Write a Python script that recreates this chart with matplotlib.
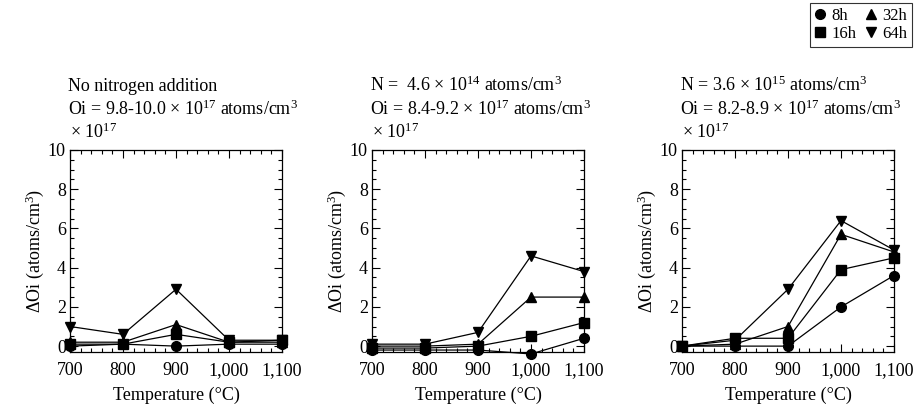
"""
Oxygen precipitation (delta Oi) vs. anneal temperature, three nitrogen levels.
"""

import matplotlib
matplotlib.use("Agg")
import matplotlib.pyplot as plt
from matplotlib.lines import Line2D
from matplotlib.ticker import MultipleLocator, FuncFormatter

plt.rcParams["font.family"] = ["Liberation Serif", "DejaVu Serif"]
plt.rcParams["mathtext.fontset"] = "custom"
plt.rcParams["mathtext.rm"] = "Liberation Serif"
plt.rcParams["mathtext.it"] = "Liberation Serif:italic"

# ---------------------------------------------------------------------------
# Data (units of 1e17 atoms/cm3)
# ---------------------------------------------------------------------------
temperatures = [700, 800, 900, 1000, 1100]
anneal_times = ["8h", "16h", "32h", "64h"]

# Panel 1: no nitrogen addition
no_n_8h  = [0.0, 0.1, 0.0, 0.1, 0.1]
no_n_16h = [0.1, 0.1, 0.6, 0.2, 0.3]
no_n_32h = [0.2, 0.2, 1.1, 0.2, 0.2]
no_n_64h = [1.0, 0.6, 2.9, 0.3, 0.3]

# Panel 2: N = 4.6e14
n14_8h  = [-0.2, -0.2, -0.2, -0.4, 0.4]
n14_16h = [-0.1, -0.1, 0.0, 0.5, 1.2]
n14_32h = [0.0, 0.0, 0.1, 2.5, 2.5]
n14_64h = [0.1, 0.1, 0.7, 4.6, 3.8]

# Panel 3: N = 3.6e15
n15_8h  = [0.0, 0.0, 0.0, 2.0, 3.6]
n15_16h = [0.0, 0.4, 0.4, 3.9, 4.5]
n15_32h = [0.0, 0.1, 1.0, 5.7, 4.8]
n15_64h = [0.0, 0.3, 2.9, 6.4, 4.9]

titles = [
    ("No nitrogen addition",
     r"Oi = 9.8-10.0 $\times$ 10$^{17}$ atoms/cm$^3$"),
    (r"N =  4.6 $\times$ 10$^{14}$ atoms/cm$^3$",
     r"Oi = 8.4-9.2 $\times$ 10$^{17}$ atoms/cm$^3$"),
    (r"N = 3.6 $\times$ 10$^{15}$ atoms/cm$^3$",
     r"Oi = 8.2-8.9 $\times$ 10$^{17}$ atoms/cm$^3$"),
]
panels = [
    [no_n_8h, no_n_16h, no_n_32h, no_n_64h],
    [n14_8h, n14_16h, n14_32h, n14_64h],
    [n15_8h, n15_16h, n15_32h, n15_64h],
]

# ---------------------------------------------------------------------------
# Style
# ---------------------------------------------------------------------------
MARKERS = {"8h": "o", "16h": "s", "32h": "^", "64h": "v"}
MSIZE = 7
FS = 13
AX_LEFTS = [70, 372, 682]     # px
AX_WIDTH = 212
AX_BOTTOM = 352
AX_TOP = 150
W, H = 916, 413


def _style_axis(ax):
    ax.set_xlim(700, 1100)
    ax.set_ylim(-0.3, 10)
    ax.xaxis.set_major_locator(MultipleLocator(100))
    ax.xaxis.set_minor_locator(MultipleLocator(20))
    ax.yaxis.set_major_locator(MultipleLocator(2))
    ax.yaxis.set_minor_locator(MultipleLocator(0.5))
    ax.xaxis.set_major_formatter(FuncFormatter(lambda v, p: f"{int(v):,}"))
    ax.tick_params(which="both", direction="in", top=True, right=True,
                   labelsize=FS, width=0.8)
    ax.tick_params(which="major", length=6)
    ax.tick_params(axis="x", which="major", pad=7)
    ax.tick_params(axis="y", which="major", pad=3)
    ax.tick_params(which="minor", length=3)
    for sp in ax.spines.values():
        sp.set_linewidth(0.9)
    ax.set_xlabel("Temperature (\u00b0C)", fontsize=FS, labelpad=6)
    ax.set_ylabel(r"$\Delta$Oi (atoms/cm$^3$)", fontsize=FS, labelpad=1)


fig = plt.figure(figsize=(W / 100, H / 100), dpi=100)

for left, series, (line1, line2) in zip(AX_LEFTS, panels, titles):
    ax = fig.add_axes([left / W, (H - AX_BOTTOM) / H,
                       AX_WIDTH / W, (AX_BOTTOM - AX_TOP) / H])
    for name, vals in zip(anneal_times, series):
        ax.plot(temperatures, vals, color="black", linewidth=0.9,
                marker=MARKERS[name], markersize=MSIZE, clip_on=False)
    _style_axis(ax)
    ax.text(-0.01, 1.29, line1, transform=ax.transAxes, fontsize=FS,
            ha="left", va="baseline")
    ax.text(-0.01, 1.175, line2, transform=ax.transAxes, fontsize=FS,
            ha="left", va="baseline")
    ax.text(0.0, 1.06, r"$\times$ 10$^{17}$", transform=ax.transAxes,
            fontsize=FS, ha="left", va="baseline")

# Legend (top right)
handles = [Line2D([], [], color="black", linestyle="none",
                  marker=MARKERS[t], markersize=MSIZE, label=t)
           for t in anneal_times]
leg = fig.legend(handles=handles, ncol=2, loc="upper right",
                 bbox_to_anchor=(912 / W, 1 - 3 / H), fontsize=12,
                 frameon=True, fancybox=False, edgecolor="black",
                 handlelength=0.6, handletextpad=0.35, columnspacing=0.6,
                 borderpad=0.3, labelspacing=0.1, borderaxespad=0)
leg.get_frame().set_linewidth(0.8)

fig.savefig("out.png", dpi=100)
